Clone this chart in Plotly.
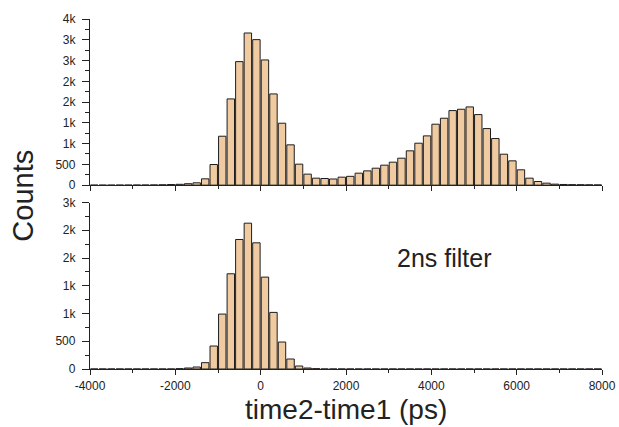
import plotly.graph_objects as go
import numpy as np

# Histogram bins (ps): 200 ps bins from -4000 to 8000
bin_start = -4000
bin_width = 200
n_bins = 60

top_counts = [0, 0, 0, 1, 1, 2, 3, 5,
              8, 15, 20, 35, 56, 152, 497, 1178, 2076, 2974,
              3663, 3503, 3014, 2196, 1491, 970, 505, 265, 168, 160,
              148, 192, 212, 288, 344, 408, 481, 553, 649, 826,
              1010, 1186, 1467, 1611, 1795, 1827, 1883, 1699, 1362, 1122,
              745, 585, 369, 168, 88, 48, 24, 16, 12, 10, 8, 6]

bottom_counts = [0, 0, 0, 0, 0, 0, 0, 0, 0, 0,
                 6, 18, 36, 114, 414, 990, 1716, 2334, 2628, 2274,
                 1656, 1020, 486, 180, 54, 18, 6] + [0] * 33

top_tickvals = [0, 500, 1000, 1500, 2000, 2500, 3000, 3500, 4000]
top_ticktext = ["0", "500", "1k", "1k", "2k", "2k", "3k", "3k", "4k"]
bot_tickvals = [0, 500, 1000, 1500, 2000, 2500, 3000]
bot_ticktext = ["0", "500", "1k", "1k", "2k", "2k", "3k"]
x_tickvals = [-4000, -2000, 0, 2000, 4000, 6000, 8000]

centers = bin_start + bin_width * (np.arange(n_bins) + 0.5)

fill = "#F0CBA1"
edge = "#1e1e1e"
font = "Liberation Sans, Arial, sans-serif"

fig = go.Figure()
fig.add_trace(go.Bar(x=centers, y=top_counts, width=bin_width * 0.87,
                     marker=dict(color=fill, line=dict(color=edge, width=1)),
                     xaxis="x", yaxis="y", showlegend=False))
fig.add_trace(go.Bar(x=centers, y=bottom_counts, width=bin_width * 0.87,
                     marker=dict(color=fill, line=dict(color=edge, width=1)),
                     xaxis="x2", yaxis="y2", showlegend=False))

axis_common = dict(showline=True, linecolor="#222", linewidth=1.3,
                   ticks="outside", tickcolor="#222", tickwidth=1.2,
                   showgrid=False, zeroline=False, automargin=False,
                   tickfont=dict(family=font, size=12, color="#222"))

xminor = dict(tickmode="array", tickvals=list(range(-3000, 8000, 2000)),
              ticks="outside", ticklen=3, tickcolor="#222", showgrid=False)

fig.update_layout(
    width=619, height=427,
    margin=dict(l=90, r=17, t=19, b=58),
    paper_bgcolor="white", plot_bgcolor="white",
    font=dict(family=font, color="#222"),
    xaxis=dict(domain=[0, 1], anchor="y", range=[-4000, 8000],
               tickmode="array", tickvals=x_tickvals, showticklabels=False,
               ticklen=5, minor=xminor, **axis_common),
    yaxis=dict(domain=[0.5253, 1], anchor="x", range=[0, 4000],
               tickmode="array", tickvals=top_tickvals, ticktext=top_ticktext,
               ticklabelstandoff=4, ticklen=7,
               minor=dict(tickmode="array", tickvals=list(range(250, 4000, 500)),
                          ticks="outside", ticklen=4, tickcolor="#222", showgrid=False),
               **axis_common),
    xaxis2=dict(domain=[0, 1], anchor="y2", range=[-4000, 8000],
                tickmode="array", tickvals=x_tickvals,
                ticktext=[str(v) for v in x_tickvals],
                ticklen=5, minor=xminor, **axis_common),
    yaxis2=dict(domain=[0, 0.4756], anchor="x2", range=[0, 3000],
                tickmode="array", tickvals=bot_tickvals, ticktext=bot_ticktext,
                ticklabelstandoff=4, ticklen=7,
                minor=dict(tickmode="array", tickvals=list(range(250, 3000, 500)),
                           ticks="outside", ticklen=4, tickcolor="#222", showgrid=False),
                **axis_common),
    annotations=[
        dict(text="2ns filter", xref="x2", yref="y2", x=3150, y=2000,
             xanchor="left", yanchor="middle", showarrow=False,
             font=dict(family=font, size=25, color="#222")),
        dict(text="Counts", xref="paper", yref="paper", x=-0.131, y=0.495,
             xanchor="center", yanchor="middle", textangle=-90, showarrow=False,
             font=dict(family=font, size=29, color="#222")),
        dict(text="time2-time1 (ps)", xref="paper", yref="paper", x=0.5, y=-0.1619,
             xanchor="center", yanchor="bottom", showarrow=False, borderpad=0,
             font=dict(family=font, size=28, color="#222")),
    ],
)

fig.write_html("out.html", config={"displayModeBar": False},
               post_script="document.body.style.margin='0';document.body.style.overflow='hidden';")
